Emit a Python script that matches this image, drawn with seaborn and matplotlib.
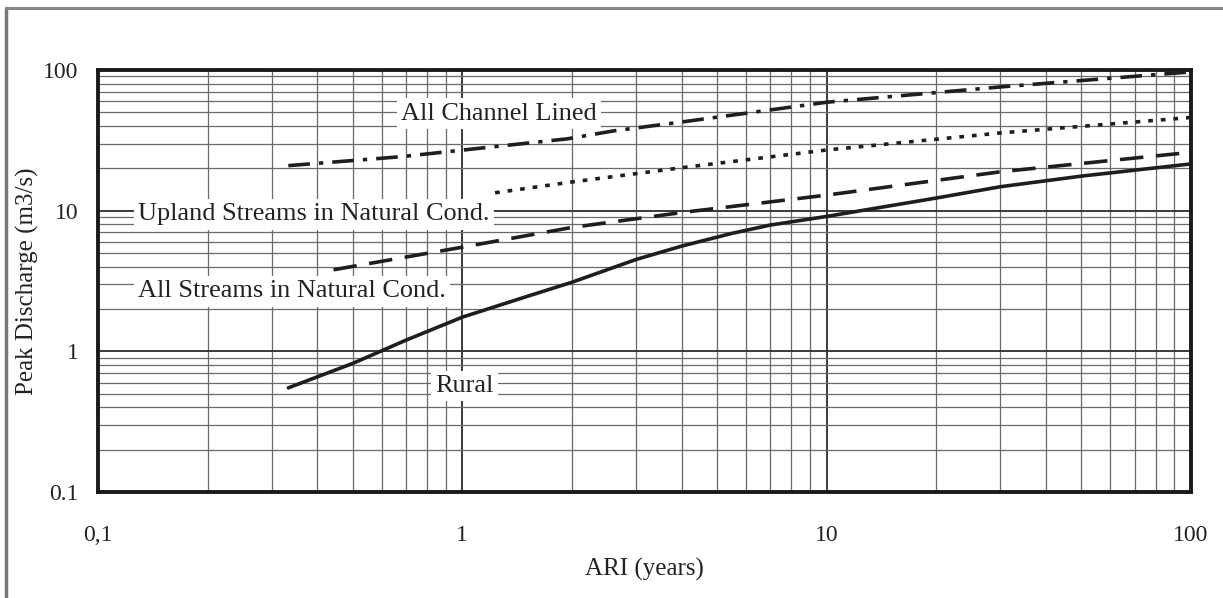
import matplotlib
matplotlib.use("Agg")
import matplotlib.pyplot as plt
import seaborn as sns
import pandas as pd
import numpy as np
from matplotlib.lines import Line2D
from matplotlib.ticker import LogLocator, NullFormatter

# ---- data ----
rural_x = [0.333, 0.5, 0.7, 1.0, 1.5, 2.0, 3.0, 4.0, 5.5, 7.0, 10, 20, 30, 50, 100]
rural_y = [0.55, 0.82, 1.2, 1.75, 2.45, 3.1, 4.5, 5.6, 6.9, 7.9, 9.1, 12.3, 14.8, 17.6, 21.5]

streams_x = [0.443, 1.0, 2.0, 4.0, 10, 30, 100]
streams_y = [3.8, 5.5, 7.6, 9.7, 12.9, 18.9, 26.0]

upland_x = [1.23, 2.0, 4.0, 10, 30, 100]
upland_y = [13.4, 16.0, 20.2, 27.0, 35.7, 46.0]

lined_x = [0.333, 0.68, 1.94, 2.6, 4.0, 10, 30, 100]
lined_y = [20.9, 24.2, 32.4, 36.9, 42.7, 59.0, 75.8, 97.0]

x_ticks = [0.1, 1, 10, 100]
x_tick_labels = ["0,1", "1", "10", "100"]
y_ticks = [0.1, 1, 10, 100]
y_tick_labels = ["0.1", "1", "10", "100"]

labels = ["All Channel Lined", "Upland Streams in Natural Cond.",
          "All Streams in Natural Cond.", "Rural"]
label_x = [0.68, 0.129, 0.129, 0.843]
label_y = [49.0, 9.4, 2.67, 0.565]

sns.set_theme(style="white")
plt.rcParams['font.family'] = ['Liberation Serif', 'DejaVu Serif']

fig = plt.figure(figsize=(12.23, 5.98), dpi=100)
ax = fig.add_axes([98/1223, 1-492/598, (1191-98)/1223, (492-70)/598])

col = "#1e1e1e"
series = [
    (rural_x, rural_y, None),
    (streams_x, streams_y, (6.5, 3.5)),
    (upland_x, upland_y, (1.3, 2.2)),
    (lined_x, lined_y, (6, 2.5, 1.2, 2.5)),
]
for xs, ys, dash in series:
    df = pd.DataFrame({"x": xs, "y": ys})
    sns.lineplot(data=df, x="x", y="y", ax=ax, color=col, linewidth=2.6, zorder=3)
    line = ax.lines[-1]
    if dash is not None:
        line.set_dashes(dash)

ax.set_xscale("log")
ax.set_yscale("log")
ax.set_xlim(0.1, 100)
ax.set_ylim(0.1, 100)

ax.xaxis.set_minor_locator(LogLocator(base=10, subs=np.arange(2, 10)))
ax.yaxis.set_minor_locator(LogLocator(base=10, subs=np.arange(2, 10)))
ax.xaxis.set_minor_formatter(NullFormatter())
ax.yaxis.set_minor_formatter(NullFormatter())
ax.grid(True, which="major", color="#3a3a3a", linewidth=1.4, zorder=1)
ax.grid(True, which="minor", color="#6a6a6a", linewidth=0.9, zorder=1)
ax.set_axisbelow(True)

ax.set_xticks(x_ticks)
ax.set_xticklabels(x_tick_labels)
ax.set_yticks(y_ticks)
ax.set_yticklabels(y_tick_labels)
ax.tick_params(axis="both", which="both", length=0, labelsize=17, colors="#222222")
ax.tick_params(axis="x", pad=24)
ax.tick_params(axis="y", pad=14)

ax.set_xlabel("ARI (years)", fontsize=18, color="#222222", labelpad=8)
ax.set_ylabel("Peak Discharge (m3/s)", fontsize=18, color="#222222")
ax.yaxis.set_label_coords(-0.054, 0.5)

for sp in ax.spines.values():
    sp.set_visible(True)
    sp.set_color("#1a1a1a")
    sp.set_linewidth(2.8)

for t, xx, yy in zip(labels, label_x, label_y):
    ax.text(xx, yy, t, fontsize=18.9, color="#222222", ha="left", va="center", zorder=5,
            bbox=dict(facecolor="white", edgecolor="none", pad=3))

# outer frame (left and top edges)
fig.add_artist(Line2D([6/1223, 6/1223], [0, 1-8/598], transform=fig.transFigure,
                      color="#777777", linewidth=2.5))
fig.add_artist(Line2D([6/1223, 1], [1-8/598, 1-8/598], transform=fig.transFigure,
                      color="#888888", linewidth=2.2))

fig.savefig("out.png", dpi=100)
